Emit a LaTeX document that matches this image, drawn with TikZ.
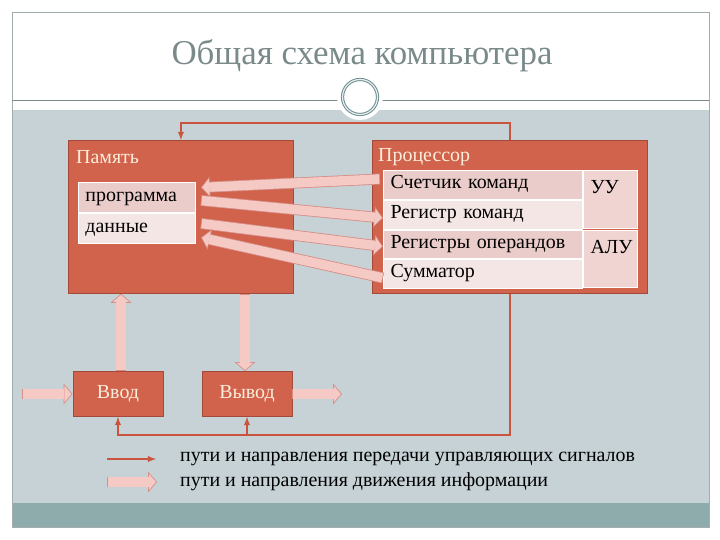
\documentclass[tikz,border=0pt]{standalone}
\usepackage{fontspec}
\setmainfont{Liberation Serif}
\usetikzlibrary{calc,positioning,arrows.meta}
\definecolor{slidegray}{HTML}{7A8A8A}
\definecolor{panel}{HTML}{C7D2D7}
\definecolor{band}{HTML}{8FACAD}
\definecolor{ring}{HTML}{6E8E91}
\definecolor{boxfill}{HTML}{D1624B}
\definecolor{boxedge}{HTML}{A5493A}
\definecolor{boxtext}{HTML}{FCEEDC}
\definecolor{rowdark}{HTML}{EACDCA}
\definecolor{rowlight}{HTML}{F4E6E5}
\definecolor{rowmid}{HTML}{EFD4D1}
\definecolor{sigred}{HTML}{C9553F}
\definecolor{infofill}{HTML}{F5C9C4}
\definecolor{infoedge}{HTML}{D68E86}
\tikzset{%
  font=\fontsize{20}{24}\selectfont,>=latex,
  block/.style    = {rectangle, draw=boxedge, fill=boxfill, line width=.8pt, anchor=north west, inner sep=0pt},
  boxtitle/.style = {anchor=west, inner sep=0pt, text=boxtext},
  cell/.style     = {rectangle, draw=white, line width=1pt, anchor=north west, inner xsep=7bp, inner ysep=0pt,
                     align=left, text height=2ex, text depth=.3ex},
  topcell/.style  = {text height=23bp, text depth=#1},
  sig/.style      = {draw=sigred, line width=1.8pt, ->},
  info/.style     = {draw=infoedge, line width=11pt, -{Triangle[length=9bp,width=21bp,line width=0pt]},
                     postaction={draw=infofill, line width=9.4pt, shorten <=.8pt, shorten >=1.1pt,
                     -{Triangle[length=7.1bp,width=16.6bp,line width=0pt]}}}
}
\begin{document}
\begin{tikzpicture}[x=1bp,y=-1bp,
                    legtext/.style={anchor=west,inner sep=0pt,text=black}]
  \useasboundingbox (0,0) rectangle (720,540);
  % slide background
  \fill[white] (0,0) rectangle (720,540);
  \fill[panel] (12,110) rectangle (709,503);
  \fill[band] (12,503) rectangle (709,527);
  \draw[slidegray!70,line width=.6pt] (12,12) rectangle (709,527);
  \draw[slidegray,line width=.8pt] (12,100) -- (709,100);
  \fill[white] (360,97) circle (23bp);
  \draw[ring,double=white!85!ring,double distance=1.2pt,line width=1pt] (360,97) circle (17.5bp);
  \node[text=slidegray,font=\fontsize{35}{42}\selectfont] (head) at (362,56) {Общая схема компьютера};

  % memory and processor
  \node[block,minimum width=225bp,minimum height=153bp] (mem) at (68,140) {};
  \node[boxtitle] (memtitle) at (76,157) {Память};
  \node[cell,fill=rowdark,text width=103bp,minimum height=30bp] (prog) at (78,182) {программа};
  \node[cell,fill=rowlight,text width=103bp,minimum height=30bp,below=0pt of prog] (data) {данные};

  \node[block,minimum width=275bp,minimum height=153bp] (proc) at (372,140) {};
  \node[boxtitle] (proctitle) at (378,157) {Процессор};
  \node[cell,fill=rowdark,text width=185bp,minimum height=29bp] (cnt) at (383,170) {Счетчик команд};
  \node[cell,fill=rowlight,text width=185bp,minimum height=29bp,below=0pt of cnt] (reg) {Регистр команд};
  \node[cell,fill=rowdark,text width=185bp,minimum height=28bp,below=0pt of reg] (ops) {\mbox{Регистры операндов}};
  \node[cell,fill=rowlight,text width=185bp,minimum height=29bp,below=0pt of ops] (sum) {Сумматор};
  \node[cell,fill=rowmid,text width=40bp,topcell=35bp] (uu) at (cnt.north east) {УУ};
  \node[cell,fill=rowmid,text width=40bp,topcell=34bp] (alu) at (ops.north east) {АЛУ};

  % input / output
  \node[block,anchor=center,minimum width=90bp,minimum height=45bp,text=boxtext] (vvod) at (118,394) {Ввод};
  \node[block,anchor=center,minimum width=90bp,minimum height=45bp,text=boxtext] (vyvod) at (247,394) {Вывод};
  \coordinate (inpt) at (22,394);
  \coordinate (outpt) at (342,394);
  \coordinate (busjoin) at ($(vyvod.south)+(0,18)$);
  \coordinate (vvodup) at ($(vvod.north)+(3,0)$);
  \coordinate (vyvoddown) at ($(vyvod.north)+(-2,0)$);

  % control signals
  \draw[sig] (proc.north) -- ++(0,-17) -| (mem.north);
  \draw[sig] (proc.south) -- ++(0,141) -| (vvod.south);
  \draw[sig] (busjoin) -- (vyvod.south);

  % information
  \draw[info] ($(cnt.west)+(-3,-6)$) -- ($(prog.east)+(5,-10)$);
  \draw[info] ($(prog.east)+(5,3)$) -- ($(reg.west)+(0,3)$);
  \draw[info] ($(data.east)+(5,-5)$) -- ($(ops.west)+(0,2)$);
  \draw[info] ($(sum.west)+(0,4)$) -- ($(data.east)+(5,9)$);
  \draw[info] (vvodup) -- (vvodup |- mem.south);
  \draw[info] (vyvoddown |- mem.south) -- (vyvoddown);
  \draw[info] (inpt) -- (vvod.west);
  \draw[info] (vyvod.east) -- (outpt);

  % legend
  \node[legtext] (legsig) at (180,459) {пути и направления передачи управляющих сигналов};
  \node[legtext] (leginfo) at (180,482) {пути и направления движения информации};
  \coordinate (legsigA) at (107,459);
  \coordinate (legsigB) at (156,459);
  \coordinate (leginfoA) at (107,482);
  \coordinate (leginfoB) at (157,482);
  \draw[sig] (legsigA) -- (legsigB);
  \draw[info] (leginfoA) -- (leginfoB);
\end{tikzpicture}
\end{document}
